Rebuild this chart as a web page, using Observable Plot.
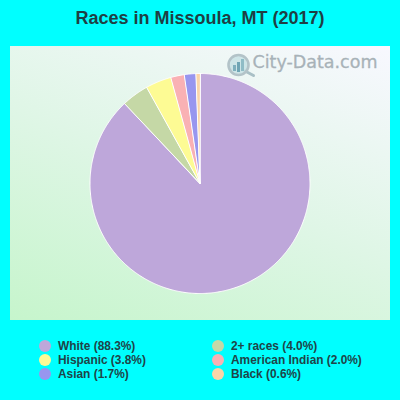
<!DOCTYPE html>
<html><head><meta charset="utf-8">
<script src="https://cdn.jsdelivr.net/npm/d3@7"></script>
<script src="https://cdn.jsdelivr.net/npm/@observablehq/plot@0.6"></script>
<style>
html,body{margin:0;padding:0;width:400px;height:400px;overflow:hidden;background:#00ffff;font-family:"Liberation Sans",Arial,sans-serif;}
#wrap{position:relative;width:400px;height:400px;}
#title{position:absolute;left:0;top:7px;width:400px;text-align:center;font-size:18px;line-height:22px;font-weight:bold;color:#1f3f44;}
#chart{position:absolute;left:10px;top:46px;width:380px;height:274px;}
#chart svg{display:block;}
#icon{position:absolute;left:224px;top:51px;}
.lg{position:absolute;font-size:11.9px;line-height:14px;font-weight:bold;color:#1f4448;white-space:nowrap;}
.lg i{position:absolute;left:-19px;top:1px;width:12px;height:12px;border-radius:50%;}
</style></head><body>
<div id="wrap"><div id="title"></div><div id="chart"></div>
<svg id="icon" width="34" height="28" viewBox="0 0 34 28">
  <line x1="21" y1="20" x2="29.5" y2="24.5" stroke="#a9c0c6" stroke-width="3" stroke-linecap="round"/>
  <circle cx="14.5" cy="14" r="10" fill="#c4e0e4" fill-opacity="0.8" stroke="#b3c3c8" stroke-width="2.6"/>
  <rect x="9" y="14" width="3" height="6" fill="#7fb0bd"/>
  <rect x="13" y="11" width="3" height="10" fill="#6fa5b4"/>
  <rect x="17" y="8" width="3" height="12" fill="#8fbcc6"/>
</svg>
<div id="legend"></div></div>
<script>
const titleText = "Races in Missoula, MT (2017)";
const categories = ["White","2+ races","Hispanic","American Indian","Asian","Black"];
const shares = [88.3,4.0,3.8,2.0,1.7,0.6];
const colors = ["#bea7da","#c5d8a6","#fdfb94","#f9b1b4","#9896ef","#fbd5a9"];
const legendOrder = ["White","2+ races","Hispanic","American Indian","Asian","Black"];

document.getElementById("title").textContent = titleText;

const pie = d3.pie().sort(null).value(d => d.share)(categories.map((name,i)=>({name,share:shares[i]})));
const outline = pie.flatMap(s => {
  const n = Math.max(2, Math.ceil((s.endAngle - s.startAngle) / 0.01));
  const pts = [{name:s.data.name, px:0, py:0}];
  for (let k=0;k<=n;k++){
    const a = s.startAngle + (s.endAngle - s.startAngle)*k/n;
    pts.push({name:s.data.name, px:Math.sin(a), py:Math.cos(a)});
  }
  return pts;
});

const plot = Plot.plot({
  width:380,height:274,margin:0,
  style:{background:"linear-gradient(22deg,#c6f5cc 0%,#dff6e6 50%,#f8f8ff 100%)",overflow:"visible"},
  x:{domain:[-189.5/110,190.5/110],axis:null},
  y:{domain:[-137/110,137/110],axis:null},
  color:{domain:categories,range:colors},
  marks:[
    Plot.text(["City-Data.com"],{frameAnchor:"top-right",dx:-13,dy:9,text:d=>d,fontSize:17.5,fill:"#a8b2b8",textAnchor:"end",lineAnchor:"top",fontFamily:"'DejaVu Sans',sans-serif",stroke:"#a8b2b8",strokeWidth:0.3}),
    Plot.line(outline,{x:"px",y:"py",z:"name",fill:"name",stroke:"#ffffff",strokeWidth:1,curve:"linear-closed"})
  ]
});
document.getElementById("chart").append(plot);

const legend = document.getElementById("legend");
legendOrder.forEach((name,i)=>{
  const idx = categories.indexOf(name);
  const col = i%2, row = Math.floor(i/2);
  const el = document.createElement("div");
  el.className="lg";
  el.style.left = (col?231:58)+"px";
  el.style.top = (339+row*14)+"px";
  el.textContent = `${name} (${shares[idx].toFixed(1)}%)`;
  const dot = document.createElement("i");
  dot.style.background = colors[idx];
  el.prepend(dot);
  legend.append(el);
});
</script>
</body></html>
